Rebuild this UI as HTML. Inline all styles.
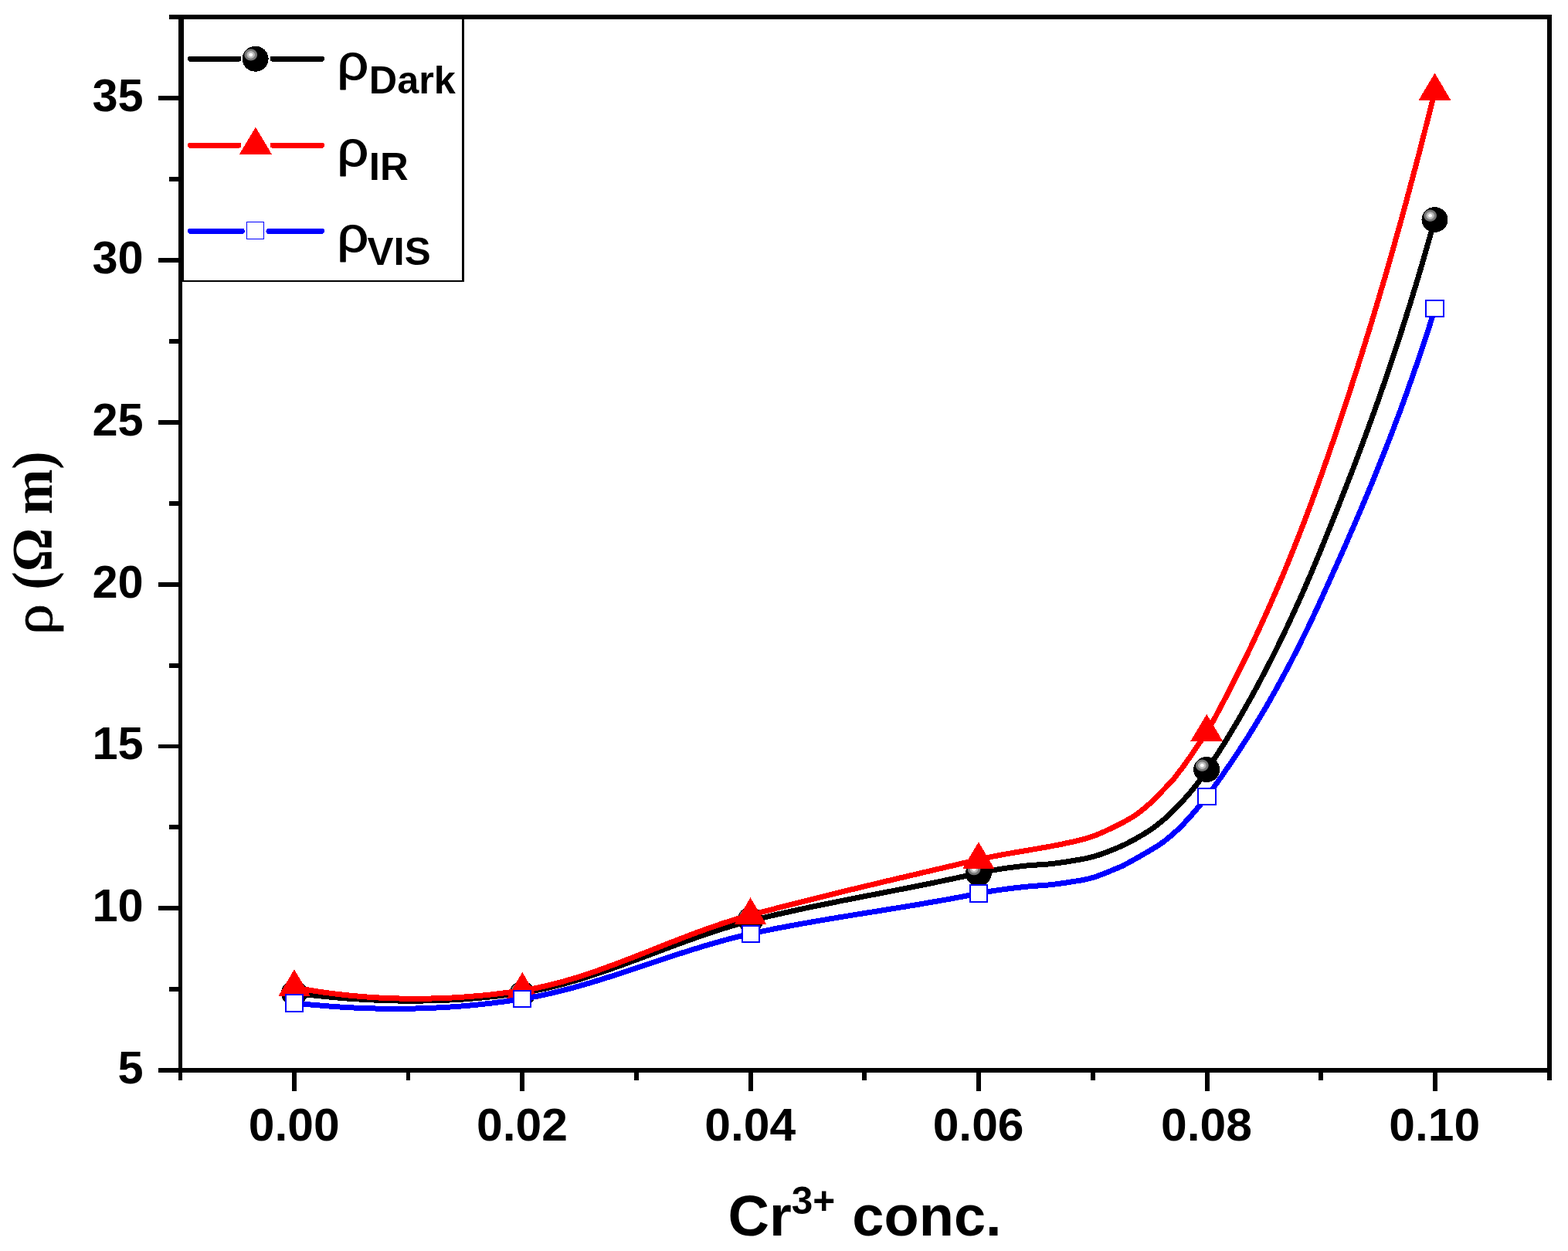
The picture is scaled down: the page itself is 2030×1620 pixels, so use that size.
<!DOCTYPE html>
<html lang="en">
<head>
<meta charset="utf-8">
<title>Resistivity vs Cr3+ concentration</title>
<style>
html,body{margin:0;padding:0;background:#fff;}
body{width:2030px;height:1620px;overflow:hidden;}
svg{display:block;}
.ax{fill:#000;shape-rendering:crispEdges;}
.tl{font-family:"Liberation Sans",sans-serif;font-weight:bold;fill:#000;}
.ser{font-family:"Liberation Serif",serif;font-weight:bold;fill:#000;}
.rho{font-family:"Liberation Sans",sans-serif;font-weight:normal;fill:#000;}
.ln{fill:none;stroke-linejoin:round;shape-rendering:crispEdges;}
.mk{shape-rendering:crispEdges;}
</style>
</head>
<body>
<svg width="2030" height="1620" viewBox="0 0 2030 1620" role="img" aria-label="Resistivity versus Cr3+ concentration">
<rect x="0" y="0" width="2030" height="1620" fill="#ffffff"/>
<defs>
<radialGradient id="hl" cx="0.5" cy="0.5" r="0.5">
<stop offset="0" stop-color="#ffffff"/>
<stop offset="0.22" stop-color="#ffffff"/>
<stop offset="0.3" stop-color="#c8c8c8"/>
<stop offset="0.55" stop-color="#b0b0b0"/>
<stop offset="0.62" stop-color="#808080"/>
<stop offset="0.88" stop-color="#707070"/>
<stop offset="1" stop-color="#000000"/>
</radialGradient>
</defs>
<g id="series-dark">
<path class="ln" d="M381.0,1286.0 L388.0,1286.9 L394.9,1287.7 L401.9,1288.5 L408.9,1289.3 L415.9,1290.0 L422.9,1290.7 L429.9,1291.4 L436.8,1292.0 L443.8,1292.6 L450.8,1293.1 L457.8,1293.6 L464.9,1294.0 L471.9,1294.4 L478.9,1294.8 L485.9,1295.1 L492.9,1295.4 L499.9,1295.7 L506.9,1295.8 L514.0,1296.0 L521.0,1296.1 L528.0,1296.2 L535.0,1296.2 L542.0,1296.1 L549.1,1296.0 L556.1,1295.9 L563.1,1295.7 L570.1,1295.5 L577.1,1295.2 L584.2,1294.9 L591.2,1294.5 L598.2,1294.1 L605.2,1293.6 L612.2,1293.0 L619.2,1292.4 L626.2,1291.8 L633.2,1291.1 L640.1,1290.4 L647.1,1289.6 L654.1,1288.7 L661.0,1287.8 L668.0,1286.8 L674.9,1285.8 L681.9,1284.7 L688.8,1283.5 L695.7,1282.2 L702.6,1280.8 L709.4,1279.3 L716.3,1277.6 L723.1,1275.9 L729.8,1274.1 L736.6,1272.2 L743.4,1270.3 L750.1,1268.3 L756.8,1266.2 L763.5,1264.1 L770.2,1261.9 L776.8,1259.7 L783.5,1257.4 L790.1,1255.1 L796.7,1252.7 L803.3,1250.4 L809.9,1248.0 L816.5,1245.5 L823.1,1243.1 L829.7,1240.6 L836.2,1238.2 L842.8,1235.7 L849.4,1233.2 L856.0,1230.8 L862.5,1228.3 L869.1,1225.9 L875.7,1223.4 L882.3,1221.0 L888.9,1218.6 L895.5,1216.2 L902.1,1213.9 L908.7,1211.6 L915.4,1209.3 L922.1,1207.1 L928.7,1204.9 L935.4,1202.8 L942.1,1200.7 L948.9,1198.7 L955.6,1196.8 L962.4,1194.9 L969.2,1193.1 L976.0,1191.4 L982.8,1189.7 L989.6,1188.1 L996.4,1186.4 L1003.3,1184.8 L1010.1,1183.3 L1017.0,1181.7 L1023.8,1180.2 L1030.7,1178.7 L1037.6,1177.2 L1044.4,1175.7 L1051.3,1174.3 L1058.2,1172.9 L1065.0,1171.5 L1071.9,1170.1 L1078.8,1168.7 L1085.7,1167.3 L1092.6,1165.9 L1099.5,1164.6 L1106.4,1163.2 L1113.2,1161.9 L1120.1,1160.5 L1127.0,1159.2 L1133.9,1157.9 L1140.8,1156.5 L1147.7,1155.2 L1154.6,1153.9 L1161.5,1152.5 L1168.4,1151.2 L1175.3,1149.8 L1182.2,1148.5 L1189.1,1147.1 L1195.9,1145.7 L1202.8,1144.3 L1209.7,1142.9 L1216.6,1141.5 L1223.5,1140.1 L1230.3,1138.6 L1237.2,1137.2 L1244.1,1135.7 L1250.9,1134.2 L1257.8,1132.7 L1264.6,1131.1 L1271.5,1129.6 L1278.4,1128.2 L1285.3,1126.9 L1292.2,1125.8 L1299.1,1124.7 L1306.1,1123.7 L1313.0,1122.9 L1320.0,1122.0 L1327.0,1121.2 L1334.0,1120.5 L1341.0,1120.1 L1348.0,1119.7 L1355.0,1119.2 L1362.0,1118.5 L1369.0,1117.6 L1375.9,1116.7 L1382.8,1115.6 L1389.8,1114.5 L1396.7,1113.3 L1403.6,1112.1 L1410.5,1110.6 L1417.2,1108.8 L1424.0,1106.7 L1430.6,1104.3 L1437.1,1101.8 L1443.6,1099.2 L1450.1,1096.4 L1456.5,1093.5 L1462.7,1090.3 L1468.9,1087.0 L1475.0,1083.5 L1481.1,1079.9 L1487.0,1076.2 L1492.8,1072.2 L1498.4,1068.0 L1503.9,1063.7 L1509.3,1059.1 L1514.4,1054.4 L1519.4,1049.4 L1524.3,1044.4 L1529.1,1039.3 L1533.9,1034.1 L1538.6,1028.9 L1543.1,1023.5 L1547.5,1018.1 L1551.8,1012.5 L1556.0,1006.9 L1560.0,1001.1 L1563.9,995.3 L1567.8,989.4 L1571.6,983.5 L1575.5,977.6 L1579.2,971.7 L1583.0,965.8 L1586.7,959.8 L1590.3,953.8 L1594.0,947.8 L1597.6,941.8 L1601.2,935.8 L1604.7,929.7 L1608.2,923.6 L1611.7,917.5 L1615.1,911.4 L1618.6,905.3 L1622.0,899.1 L1625.3,893.0 L1628.6,886.8 L1631.9,880.6 L1635.2,874.4 L1638.5,868.1 L1641.7,861.9 L1644.9,855.6 L1648.0,849.4 L1651.2,843.1 L1654.3,836.8 L1657.4,830.5 L1660.4,824.2 L1663.5,817.8 L1666.5,811.5 L1669.4,805.1 L1672.4,798.8 L1675.3,792.4 L1678.2,786.0 L1681.1,779.6 L1684.0,773.2 L1686.8,766.8 L1689.7,760.3 L1692.4,753.9 L1695.2,747.4 L1698.0,741.0 L1700.7,734.5 L1703.4,728.0 L1706.1,721.6 L1708.8,715.1 L1711.4,708.6 L1714.1,702.1 L1716.7,695.5 L1719.3,689.0 L1722.0,682.5 L1724.6,676.0 L1727.2,669.5 L1729.8,663.0 L1732.4,656.4 L1735.0,649.9 L1737.5,643.4 L1740.1,636.8 L1742.7,630.3 L1745.2,623.8 L1747.7,617.2 L1750.3,610.7 L1752.8,604.1 L1755.3,597.5 L1757.8,591.0 L1760.2,584.4 L1762.7,577.8 L1765.1,571.2 L1767.6,564.7 L1770.0,558.1 L1772.4,551.5 L1774.8,544.9 L1777.2,538.3 L1779.6,531.7 L1781.9,525.1 L1784.3,518.4 L1786.6,511.8 L1788.9,505.2 L1791.2,498.5 L1793.5,491.9 L1795.8,485.3 L1798.0,478.6 L1800.3,472.0 L1802.5,465.3 L1804.7,458.6 L1806.9,452.0 L1809.1,445.3 L1811.3,438.6 L1813.4,431.9 L1815.6,425.3 L1817.7,418.6 L1819.8,411.9 L1821.9,405.2 L1824.0,398.5 L1826.1,391.8 L1828.2,385.1 L1830.2,378.3 L1832.3,371.6 L1834.3,364.9 L1836.3,358.2 L1838.3,351.4 L1840.3,344.7 L1842.2,338.0 L1844.2,331.2 L1846.1,324.5 L1848.0,317.7 L1850.0,311.0 L1851.9,304.2 L1853.8,297.4 L1855.6,290.7 L1857.5,283.9" stroke="#000000" stroke-width="7"/>
<ellipse class="mk" cx="381" cy="1286" rx="17" ry="16.5" fill="#000"/>
<ellipse cx="375.1" cy="1280.7" rx="8.9" ry="8.1" fill="url(#hl)"/>
<ellipse class="mk" cx="676.3" cy="1287" rx="17" ry="16.5" fill="#000"/>
<ellipse cx="670.4" cy="1281.7" rx="8.9" ry="8.1" fill="url(#hl)"/>
<ellipse class="mk" cx="971.6" cy="1191" rx="17" ry="16.5" fill="#000"/>
<ellipse cx="965.7" cy="1185.7" rx="8.9" ry="8.1" fill="url(#hl)"/>
<ellipse class="mk" cx="1266.9" cy="1131" rx="17" ry="16.5" fill="#000"/>
<ellipse cx="1261" cy="1125.7" rx="8.9" ry="8.1" fill="url(#hl)"/>
<ellipse class="mk" cx="1562.2" cy="996.5" rx="17" ry="16.5" fill="#000"/>
<ellipse cx="1556.3" cy="991.2" rx="8.9" ry="8.1" fill="url(#hl)"/>
<ellipse class="mk" cx="1857.5" cy="284.5" rx="17" ry="16.5" fill="#000"/>
<ellipse cx="1851.6" cy="279.2" rx="8.9" ry="8.1" fill="url(#hl)"/>
</g>
<g id="series-ir">
<path class="ln" d="M381.0,1278.8 L387.9,1280.1 L394.8,1281.3 L401.7,1282.4 L408.6,1283.5 L415.6,1284.6 L422.5,1285.5 L429.4,1286.5 L436.4,1287.3 L443.4,1288.1 L450.3,1288.9 L457.3,1289.5 L464.3,1290.2 L471.3,1290.7 L478.2,1291.3 L485.2,1291.7 L492.2,1292.1 L499.2,1292.4 L506.2,1292.7 L513.2,1292.9 L520.2,1293.1 L527.2,1293.2 L534.2,1293.3 L541.3,1293.3 L548.3,1293.2 L555.3,1293.1 L562.3,1292.9 L569.3,1292.7 L576.3,1292.4 L583.3,1292.1 L590.3,1291.7 L597.3,1291.3 L604.2,1290.8 L611.2,1290.2 L618.2,1289.6 L625.2,1289.0 L632.2,1288.3 L639.1,1287.5 L646.1,1286.7 L653.0,1285.8 L660.0,1284.9 L666.9,1284.0 L673.9,1283.0 L680.8,1281.9 L687.7,1280.7 L694.6,1279.4 L701.4,1277.9 L708.3,1276.4 L715.1,1274.7 L721.8,1273.0 L728.6,1271.2 L735.3,1269.2 L742.1,1267.2 L748.8,1265.2 L755.4,1263.0 L762.1,1260.8 L768.7,1258.6 L775.3,1256.3 L781.9,1253.9 L788.5,1251.5 L795.1,1249.1 L801.6,1246.6 L808.2,1244.1 L814.7,1241.6 L821.3,1239.1 L827.8,1236.5 L834.3,1234.0 L840.8,1231.4 L847.3,1228.8 L853.9,1226.2 L860.4,1223.7 L866.9,1221.1 L873.4,1218.6 L880.0,1216.0 L886.5,1213.5 L893.0,1211.0 L899.6,1208.5 L906.2,1206.1 L912.8,1203.7 L919.4,1201.4 L926.0,1199.1 L932.6,1196.8 L939.3,1194.6 L945.9,1192.5 L952.6,1190.4 L959.3,1188.4 L966.1,1186.5 L972.9,1184.7 L979.6,1182.9 L986.4,1181.1 L993.2,1179.3 L1000.0,1177.6 L1006.7,1175.8 L1013.5,1174.1 L1020.3,1172.3 L1027.1,1170.6 L1033.9,1168.9 L1040.7,1167.2 L1047.5,1165.4 L1054.3,1163.7 L1061.1,1162.1 L1067.9,1160.4 L1074.7,1158.7 L1081.5,1157.0 L1088.3,1155.4 L1095.1,1153.7 L1101.9,1152.0 L1108.7,1150.4 L1115.5,1148.7 L1122.3,1147.1 L1129.1,1145.5 L1136.0,1143.8 L1142.8,1142.2 L1149.6,1140.6 L1156.4,1139.0 L1163.2,1137.4 L1170.0,1135.8 L1176.9,1134.2 L1183.7,1132.6 L1190.5,1131.0 L1197.3,1129.4 L1204.2,1127.8 L1211.0,1126.2 L1217.8,1124.6 L1224.6,1123.0 L1231.5,1121.4 L1238.3,1119.8 L1245.1,1118.2 L1251.9,1116.6 L1258.7,1115.1 L1265.6,1113.5 L1272.4,1111.9 L1279.3,1110.4 L1286.1,1109.0 L1293.0,1107.7 L1299.9,1106.4 L1306.8,1105.2 L1313.7,1104.0 L1320.6,1102.8 L1327.5,1101.7 L1334.4,1100.5 L1341.3,1099.3 L1348.2,1098.1 L1355.1,1096.9 L1362.0,1095.6 L1368.9,1094.3 L1375.8,1092.9 L1382.6,1091.4 L1389.5,1090.0 L1396.3,1088.4 L1403.1,1086.7 L1409.8,1084.7 L1416.4,1082.4 L1422.9,1079.8 L1429.3,1077.0 L1435.7,1074.0 L1442.0,1071.0 L1448.3,1067.8 L1454.5,1064.7 L1460.6,1061.3 L1466.7,1057.7 L1472.5,1053.8 L1478.0,1049.6 L1483.4,1045.1 L1488.7,1040.5 L1493.8,1035.7 L1498.7,1030.6 L1503.5,1025.6 L1508.4,1020.6 L1513.3,1015.5 L1518.1,1010.4 L1522.5,1005.0 L1526.7,999.4 L1531.0,993.8 L1535.1,988.1 L1539.1,982.4 L1543.1,976.6 L1547.0,970.8 L1550.8,964.9 L1554.9,959.3 L1559.1,953.6 L1562.8,947.7 L1566.2,941.6 L1569.6,935.4 L1573.0,929.3 L1576.3,923.1 L1579.6,916.9 L1582.8,910.7 L1586.1,904.5 L1589.3,898.3 L1592.5,892.1 L1595.7,885.8 L1598.8,879.6 L1602.0,873.3 L1605.1,867.0 L1608.2,860.7 L1611.3,854.5 L1614.3,848.2 L1617.4,841.8 L1620.4,835.5 L1623.4,829.2 L1626.3,822.8 L1629.3,816.5 L1632.2,810.1 L1635.1,803.7 L1638.0,797.4 L1640.9,791.0 L1643.7,784.6 L1646.5,778.1 L1649.3,771.7 L1652.1,765.3 L1654.9,758.9 L1657.6,752.4 L1660.4,746.0 L1663.1,739.5 L1665.7,733.0 L1668.4,726.5 L1671.0,720.0 L1673.7,713.5 L1676.3,707.0 L1678.8,700.5 L1681.4,694.0 L1683.9,687.5 L1686.5,680.9 L1689.0,674.4 L1691.5,667.8 L1693.9,661.3 L1696.4,654.7 L1698.8,648.1 L1701.2,641.6 L1703.6,635.0 L1706.0,628.4 L1708.3,621.8 L1710.7,615.2 L1713.0,608.6 L1715.3,602.0 L1717.6,595.4 L1719.9,588.7 L1722.2,582.1 L1724.5,575.5 L1726.8,568.9 L1729.0,562.2 L1731.3,555.6 L1733.5,549.0 L1735.8,542.3 L1738.0,535.7 L1740.2,529.0 L1742.4,522.4 L1744.6,515.7 L1746.7,509.1 L1748.9,502.4 L1751.1,495.7 L1753.2,489.1 L1755.3,482.4 L1757.5,475.7 L1759.6,469.0 L1761.7,462.3 L1763.8,455.7 L1765.9,449.0 L1768.0,442.3 L1770.0,435.6 L1772.1,428.9 L1774.2,422.2 L1776.2,415.5 L1778.2,408.8 L1780.2,402.1 L1782.3,395.4 L1784.3,388.7 L1786.3,381.9 L1788.2,375.2 L1790.2,368.5 L1792.2,361.8 L1794.2,355.0 L1796.1,348.3 L1798.0,341.6 L1800.0,334.9 L1801.9,328.1 L1803.8,321.4 L1805.7,314.6 L1807.6,307.9 L1809.5,301.1 L1811.4,294.4 L1813.3,287.6 L1815.1,280.9 L1817.0,274.1 L1818.8,267.4 L1820.7,260.6 L1822.5,253.8 L1824.3,247.1 L1826.1,240.3 L1827.9,233.5 L1829.7,226.8 L1831.5,220.0 L1833.3,213.2 L1835.1,206.4 L1836.9,199.7 L1838.6,192.9 L1840.4,186.1 L1842.1,179.3 L1843.9,172.5 L1845.6,165.7 L1847.3,159.0 L1849.0,152.2 L1850.7,145.4 L1852.4,138.6 L1854.1,131.8 L1855.8,125.0 L1857.5,118.2" stroke="#ff0000" stroke-width="7"/>
<polygon class="mk" points="381,1255.3 401.8,1290.2 360.2,1290.2" fill="#ff0000"/>
<polygon class="mk" points="676.3,1259.1 697.1,1294 655.5,1294" fill="#ff0000"/>
<polygon class="mk" points="971.6,1162.3 992.4,1197.2 950.8,1197.2" fill="#ff0000"/>
<polygon class="mk" points="1266.9,1090.4 1287.7,1125.3 1246.1,1125.3" fill="#ff0000"/>
<polygon class="mk" points="1562.2,924.8 1583,959.7 1541.4,959.7" fill="#ff0000"/>
<polygon class="mk" points="1857.5,94.7 1878.3,129.6 1836.7,129.6" fill="#ff0000"/>
</g>
<g id="series-vis">
<path class="ln" d="M381.0,1298.8 L388.0,1299.6 L395.0,1300.3 L401.9,1301.0 L408.9,1301.6 L415.9,1302.2 L422.9,1302.8 L429.9,1303.3 L436.9,1303.8 L443.9,1304.3 L450.9,1304.7 L457.9,1305.0 L464.9,1305.3 L471.9,1305.6 L479.0,1305.8 L486.0,1306.0 L493.0,1306.2 L500.0,1306.3 L507.0,1306.3 L514.0,1306.3 L521.1,1306.3 L528.1,1306.2 L535.1,1306.1 L542.1,1305.9 L549.1,1305.7 L556.1,1305.4 L563.1,1305.1 L570.1,1304.8 L577.2,1304.4 L584.2,1303.9 L591.2,1303.4 L598.2,1302.9 L605.1,1302.3 L612.1,1301.7 L619.1,1301.0 L626.1,1300.2 L633.1,1299.5 L640.0,1298.6 L647.0,1297.7 L654.0,1296.8 L660.9,1295.9 L667.8,1294.8 L674.8,1293.8 L681.7,1292.6 L688.6,1291.4 L695.5,1290.1 L702.4,1288.7 L709.2,1287.2 L716.1,1285.6 L722.9,1284.0 L729.7,1282.3 L736.5,1280.5 L743.3,1278.7 L750.0,1276.8 L756.8,1274.9 L763.5,1272.9 L770.2,1270.9 L776.9,1268.8 L783.6,1266.7 L790.3,1264.6 L797.0,1262.4 L803.7,1260.3 L810.3,1258.1 L817.0,1255.9 L823.7,1253.7 L830.3,1251.4 L837.0,1249.2 L843.6,1247.0 L850.3,1244.8 L856.9,1242.5 L863.6,1240.3 L870.3,1238.1 L876.9,1236.0 L883.6,1233.8 L890.3,1231.7 L897.0,1229.6 L903.7,1227.5 L910.4,1225.4 L917.1,1223.4 L923.9,1221.5 L930.6,1219.6 L937.4,1217.7 L944.2,1215.9 L951.0,1214.2 L957.8,1212.5 L964.6,1210.9 L971.5,1209.3 L978.3,1207.9 L985.2,1206.4 L992.0,1205.0 L998.9,1203.6 L1005.8,1202.2 L1012.7,1200.9 L1019.6,1199.6 L1026.5,1198.3 L1033.4,1197.0 L1040.3,1195.8 L1047.2,1194.6 L1054.1,1193.3 L1061.0,1192.2 L1067.9,1191.0 L1074.9,1189.8 L1081.8,1188.7 L1088.7,1187.5 L1095.6,1186.4 L1102.6,1185.2 L1109.5,1184.1 L1116.4,1183.0 L1123.3,1181.9 L1130.3,1180.8 L1137.2,1179.7 L1144.1,1178.6 L1151.1,1177.4 L1158.0,1176.3 L1164.9,1175.2 L1171.8,1174.1 L1178.8,1172.9 L1185.7,1171.8 L1192.6,1170.6 L1199.5,1169.4 L1206.4,1168.2 L1213.3,1167.0 L1220.3,1165.8 L1227.2,1164.6 L1234.1,1163.3 L1241.0,1162.0 L1247.9,1160.7 L1254.7,1159.4 L1261.6,1158.0 L1268.5,1156.7 L1275.4,1155.4 L1282.3,1154.2 L1289.3,1153.1 L1296.2,1152.1 L1303.2,1151.2 L1310.1,1150.3 L1317.1,1149.5 L1324.1,1148.7 L1331.0,1148.0 L1338.0,1147.4 L1345.0,1146.9 L1352.0,1146.5 L1359.0,1145.8 L1366.0,1145.0 L1373.0,1144.1 L1379.9,1143.1 L1386.8,1142.0 L1393.8,1140.9 L1400.7,1139.8 L1407.6,1138.4 L1414.3,1136.6 L1421.0,1134.4 L1427.6,1132.0 L1434.1,1129.4 L1440.6,1126.6 L1447.1,1124.0 L1453.5,1121.2 L1459.7,1117.9 L1465.9,1114.5 L1472.0,1111.1 L1478.1,1107.6 L1484.1,1104.1 L1490.2,1100.5 L1496.2,1096.9 L1502.1,1093.1 L1507.8,1089.0 L1513.2,1084.6 L1518.6,1080.0 L1523.8,1075.3 L1528.8,1070.4 L1533.7,1065.4 L1538.4,1060.2 L1543.1,1055.0 L1547.7,1049.6 L1552.2,1044.3 L1556.7,1038.9 L1561.1,1033.5 L1565.3,1027.9 L1569.5,1022.2 L1573.6,1016.5 L1577.7,1010.8 L1581.7,1005.1 L1585.7,999.3 L1589.7,993.5 L1593.7,987.7 L1597.6,981.9 L1601.5,976.1 L1605.3,970.2 L1609.1,964.3 L1612.9,958.4 L1616.7,952.5 L1620.4,946.5 L1624.1,940.5 L1627.7,934.6 L1631.3,928.5 L1634.9,922.5 L1638.5,916.5 L1642.0,910.4 L1645.5,904.3 L1648.9,898.2 L1652.4,892.1 L1655.7,885.9 L1659.1,879.8 L1662.4,873.6 L1665.7,867.4 L1669.0,861.2 L1672.3,855.0 L1675.5,848.7 L1678.7,842.5 L1681.8,836.2 L1684.9,829.9 L1688.0,823.6 L1691.1,817.3 L1694.2,811.0 L1697.2,804.7 L1700.2,798.3 L1703.1,792.0 L1706.1,785.6 L1709.0,779.2 L1711.9,772.8 L1714.8,766.4 L1717.7,760.0 L1720.6,753.6 L1723.4,747.2 L1726.3,740.8 L1729.2,734.4 L1732.0,728.0 L1734.9,721.6 L1737.7,715.2 L1740.6,708.8 L1743.4,702.4 L1746.2,695.9 L1749.0,689.5 L1751.8,683.1 L1754.6,676.6 L1757.4,670.2 L1760.1,663.7 L1762.9,657.3 L1765.6,650.8 L1768.3,644.3 L1771.0,637.9 L1773.7,631.4 L1776.4,624.9 L1779.0,618.4 L1781.7,611.9 L1784.3,605.4 L1786.9,598.9 L1789.5,592.4 L1792.1,585.8 L1794.7,579.3 L1797.2,572.8 L1799.8,566.2 L1802.3,559.7 L1804.8,553.1 L1807.2,546.5 L1809.7,540.0 L1812.2,533.4 L1814.6,526.8 L1817.0,520.2 L1819.4,513.6 L1821.8,507.0 L1824.1,500.4 L1826.5,493.8 L1828.8,487.2 L1831.1,480.6 L1833.4,473.9 L1835.7,467.3 L1837.9,460.6 L1840.2,454.0 L1842.4,447.3 L1844.6,440.7 L1846.8,434.0 L1849.0,427.3 L1851.1,420.7 L1853.3,414.0 L1855.4,407.3 L1857.5,400.6" stroke="#0000ff" stroke-width="7"/>
<rect class="mk" x="370" y="1288" width="22" height="22" fill="#fff" stroke="#0000ff" stroke-width="2"/>
<rect class="mk" x="665" y="1283" width="22" height="21" fill="#fff" stroke="#0000ff" stroke-width="2"/>
<rect class="mk" x="961" y="1199" width="22" height="21" fill="#fff" stroke="#0000ff" stroke-width="2"/>
<rect class="mk" x="1256" y="1146" width="22" height="22" fill="#fff" stroke="#0000ff" stroke-width="2"/>
<rect class="mk" x="1551" y="1021" width="23" height="21" fill="#fff" stroke="#0000ff" stroke-width="2"/>
<rect class="mk" x="1846" y="389" width="23" height="21" fill="#fff" stroke="#0000ff" stroke-width="2"/>
</g>
<g id="axes">
<rect class="ax" x="231" y="19" width="5" height="1380"/>
<rect class="ax" x="2003" y="19" width="6" height="1380"/>
<rect class="ax" x="219" y="19" width="1790" height="6"/>
<rect class="ax" x="205" y="1383" width="1804" height="6"/>
<rect class="ax" x="205" y="124" width="26" height="6"/>
<rect class="ax" x="219" y="229" width="12" height="6"/>
<rect class="ax" x="205" y="334" width="26" height="6"/>
<rect class="ax" x="219" y="439" width="12" height="6"/>
<rect class="ax" x="205" y="544" width="26" height="6"/>
<rect class="ax" x="219" y="649" width="12" height="6"/>
<rect class="ax" x="205" y="754" width="26" height="6"/>
<rect class="ax" x="219" y="859" width="12" height="6"/>
<rect class="ax" x="205" y="964" width="26" height="5"/>
<rect class="ax" x="219" y="1068" width="12" height="6"/>
<rect class="ax" x="205" y="1173" width="26" height="6"/>
<rect class="ax" x="219" y="1278" width="12" height="6"/>
<rect class="ax" x="378" y="1389" width="6" height="24"/>
<rect class="ax" x="526" y="1389" width="5" height="10"/>
<rect class="ax" x="673" y="1389" width="6" height="24"/>
<rect class="ax" x="821" y="1389" width="6" height="10"/>
<rect class="ax" x="969" y="1389" width="6" height="24"/>
<rect class="ax" x="1116" y="1389" width="6" height="10"/>
<rect class="ax" x="1264" y="1389" width="6" height="24"/>
<rect class="ax" x="1412" y="1389" width="6" height="10"/>
<rect class="ax" x="1560" y="1389" width="6" height="24"/>
<rect class="ax" x="1707" y="1389" width="6" height="10"/>
<rect class="ax" x="1855" y="1389" width="6" height="24"/>
</g>
<g id="ticklabels">
<text class="tl" transform="translate(185.7,1403.1) scale(1.002,1)" font-size="59.4" text-anchor="end">5</text>
<text class="tl" transform="translate(185.7,1193.3) scale(1.002,1)" font-size="59.4" text-anchor="end">10</text>
<text class="tl" transform="translate(185.7,983.4) scale(1.002,1)" font-size="59.4" text-anchor="end">15</text>
<text class="tl" transform="translate(185.7,773.6) scale(1.002,1)" font-size="59.4" text-anchor="end">20</text>
<text class="tl" transform="translate(185.7,563.8) scale(1.002,1)" font-size="59.4" text-anchor="end">25</text>
<text class="tl" transform="translate(185.7,353.9) scale(1.002,1)" font-size="59.4" text-anchor="end">30</text>
<text class="tl" transform="translate(185.7,144.1) scale(1.002,1)" font-size="59.4" text-anchor="end">35</text>
<text class="tl" transform="translate(380.7,1476.7) scale(1.02,1)" font-size="59.4" text-anchor="middle">0.00</text>
<text class="tl" transform="translate(676.0,1476.7) scale(1.02,1)" font-size="59.4" text-anchor="middle">0.02</text>
<text class="tl" transform="translate(971.3,1476.7) scale(1.02,1)" font-size="59.4" text-anchor="middle">0.04</text>
<text class="tl" transform="translate(1266.6,1476.7) scale(1.02,1)" font-size="59.4" text-anchor="middle">0.06</text>
<text class="tl" transform="translate(1561.9,1476.7) scale(1.02,1)" font-size="59.4" text-anchor="middle">0.08</text>
<text class="tl" transform="translate(1857.2,1476.7) scale(1.02,1)" font-size="59.4" text-anchor="middle">0.10</text>
</g>
<text class="tl" transform="translate(942.5,1600) scale(1.0005,1)" font-size="74">Cr<tspan font-size="49.5" dy="-28.5">3+</tspan><tspan dy="28.5" dx="1.5"> conc.</tspan></text>
<text class="ser" transform="translate(66.6,822.3) rotate(-90) scale(1.13,1)" font-size="71.7" font-weight="normal" style="font-weight:normal" stroke="#000" stroke-width="0.8">ρ</text>
<text class="ser" transform="translate(66.6,584.3) rotate(-90) scale(0.956,1)" font-size="73.6" text-anchor="end">(Ω m)</text>
<g id="legend">
<rect class="mk" x="236" y="25" width="365" height="340" fill="#fff"/>
<rect class="ax" x="236" y="25" width="2" height="340"/>
<rect class="ax" x="598" y="25" width="3" height="340"/>
<rect class="ax" x="236" y="363" width="365" height="2"/>
<path class="ln" d="M246.5,76.2 H309 M353,76.2 H416.5" stroke="#000000" stroke-width="7" stroke-linecap="round"/>
<ellipse class="mk" cx="330.6" cy="76.2" rx="17" ry="16.5" fill="#000"/>
<ellipse cx="324.7" cy="70.9" rx="8.9" ry="8.1" fill="url(#hl)"/>
<text class="rho" transform="translate(436.3,103.2) scale(1.1,1)" font-size="65.5" stroke="#000" stroke-width="1" stroke-linejoin="round">ρ</text>
<text class="tl" transform="translate(477.8,121.4) scale(1.014,1)" font-size="49.7">Dark</text>
<path class="ln" d="M246.5,188.2 H309 M353,188.2 H416.5" stroke="#ff0000" stroke-width="7" stroke-linecap="round"/>
<polygon class="mk" points="330.9,164.6 351.7,199.5 310.1,199.5" fill="#ff0000"/>
<text class="rho" transform="translate(436.3,215.2) scale(1.1,1)" font-size="65.5" stroke="#000" stroke-width="1" stroke-linejoin="round">ρ</text>
<text class="tl" transform="translate(477.8,232.8) scale(1.024,1)" font-size="49.7">IR</text>
<path class="ln" d="M246.5,299.3 H313.2 M347.9,299.3 H416.5" stroke="#0000ff" stroke-width="7" stroke-linecap="round"/>
<rect class="mk" x="319.75" y="287.45" width="21.7" height="21.7" fill="#fff" stroke="#0000ff" stroke-width="1.3"/>
<text class="rho" transform="translate(436.3,326.3) scale(1.1,1)" font-size="65.5" stroke="#000" stroke-width="1" stroke-linejoin="round">ρ</text>
<text class="tl" transform="translate(475.6,343.3) scale(1.024,1)" font-size="49.7">VIS</text>
</g>
</svg>
</body>
</html>
